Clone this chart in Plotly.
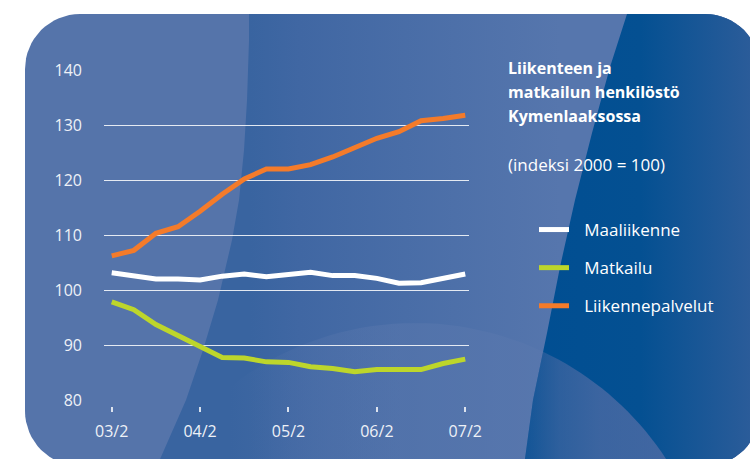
import math
import plotly.graph_objects as go

# ---------------- data ----------------
periods = ["03/2", "03/3", "03/4", "04/1", "04/2", "04/3", "04/4", "05/1", "05/2",
           "05/3", "05/4", "06/1", "06/2", "06/3", "06/4", "07/1", "07/2"]
tick_labels = ["03/2", "04/2", "05/2", "06/2", "07/2"]
maaliikenne = [103.2, 102.7, 102.1, 102.1, 101.9, 102.6, 103.0, 102.5, 102.9,
               103.3, 102.7, 102.7, 102.2, 101.3, 101.4, 102.3, 103.0]
matkailu = [97.9, 96.5, 93.8, 91.8, 89.7, 87.8, 87.7, 87.0, 86.9,
            86.1, 85.8, 85.2, 85.6, 85.7, 85.6, 86.7, 87.5]
liikennepalvelut = [106.3, 107.3, 110.4, 111.6, 114.4, 117.5, 120.3, 122.1, 122.1,
                    122.9, 124.3, 126.1, 127.7, 128.9, 130.9, 131.3, 131.9]
series_names = ["Maaliikenne", "Matkailu", "Liikennepalvelut"]
series_colors = ["#FFFFFF", "#BDD62B", "#F47B2A"]
title_lines = ["Liikenteen ja", "matkailun henkilöstö", "Kymenlaaksossa"]
subtitle = "(indeksi 2000 = 100)"

W, H = 750, 459
FONT = "Open Sans"

# ---------------- background geometry (pixel space, y down) ----------------
RX0, RY0, RX1, RY1, RR = 25, 14, 760, 466, 55


def arc(cx, cy, r, a0, a1, n=16):
    pts = []
    for i in range(n + 1):
        a = math.radians(a0 + (a1 - a0) * i / n)
        pts.append((cx + r * math.cos(a), cy + r * math.sin(a)))
    return pts


def rounded_rect():
    p = []
    p += arc(RX1 - RR, RY0 + RR, RR, -90, 0)
    p += arc(RX1 - RR, RY1 - RR, RR, 0, 90)
    p += arc(RX0 + RR, RY1 - RR, RR, 90, 180)
    p += arc(RX0 + RR, RY0 + RR, RR, 180, 270)
    return p


L1 = [(249, 14), (249, 40), (247, 100), (244, 150), (239, 200), (232, 240),
      (218, 300), (203, 350), (186, 400), (160, 459), (157, 466)]
L2 = [(627, 14), (610, 67), (592, 133), (575, 200), (560, 267), (547, 333),
      (533, 400), (525, 459), (524, 466)]


def right_side_from(xb):
    p = [(xb, RY1)]
    p += arc(RX1 - RR, RY1 - RR, RR, 90, 0)
    p += arc(RX1 - RR, RY0 + RR, RR, 0, -90)
    return p


middle_poly = L1 + right_side_from(L1[-1][0]) + [L1[0]]
right_poly = L2 + right_side_from(L2[-1][0]) + [L2[0]]

CX, CY, CR = 415, 623, 300


def l2_x_at(y):
    for (x0, y0), (x1, y1) in zip(L2[:-1], L2[1:]):
        if y0 <= y <= y1:
            return x0 + (x1 - x0) * (y - y0) / (y1 - y0)
    return L2[-1][0]


best = None
for i in range(2001):
    th = -90 + 60 * i / 2000
    x = CX + CR * math.cos(math.radians(th))
    y = CY + CR * math.sin(math.radians(th))
    d = abs(x - l2_x_at(y))
    if best is None or d < best[0]:
        best = (d, th, x, y)
th_i, xi, yi = best[1], best[2], best[3]
th_left = -180 + math.degrees(math.asin((CY - RY1) / CR))
th_right = -math.degrees(math.asin((CY - RY1) / CR))

l2_below = [(xi, yi)] + [pt for pt in L2 if pt[1] > yi]
disc_mid = arc(CX, CY, CR, th_left, th_i, 40) + l2_below[1:]
disc_mid += [(CX + CR * math.cos(math.radians(th_left)), RY1)]
disc_right = arc(CX, CY, CR, th_i, th_right, 20) + [(L2[-1][0], RY1)] + list(reversed(l2_below[1:]))

fig = go.Figure()


def bg(poly, **kw):
    xs = [p[0] for p in poly] + [poly[0][0]]
    ys = [p[1] for p in poly] + [poly[0][1]]
    fig.add_trace(go.Scatter(x=xs, y=ys, xaxis="x", yaxis="y", mode="lines",
                             line=dict(width=0), fill="toself", hoverinfo="skip",
                             showlegend=False, **kw))


bg(rounded_rect(), fillcolor="#5574AA")
bg(middle_poly, fillgradient=dict(type="horizontal", start=250, stop=560,
                                  colorscale=[[0, "rgb(57,100,160)"], [0.16, "rgb(64,103,163)"],
                                              [1, "rgb(86,118,173)"]]))
bg(disc_mid, fillgradient=dict(type="horizontal", start=230, stop=400,
                               colorscale=[[0, "rgba(90,120,174,0)"], [0.5, "rgba(90,120,174,0.3)"],
                                           [1, "rgba(90,120,174,0.5)"]]))
bg(right_poly, fillgradient=dict(type="horizontal", start=520, stop=760,
                                 colorscale=[[0, "rgb(0,78,146)"], [0.5, "rgb(4,80,146)"],
                                             [1, "rgb(46,93,154)"]]))
bg(disc_right, fillgradient=dict(type="horizontal", start=524, stop=640,
                                 colorscale=[[0, "rgba(90,112,168,0.2)"], [0.3, "rgba(90,112,168,0.5)"],
                                             [0.65, "rgba(90,112,168,0.65)"], [1, "rgba(90,112,168,0.68)"]]))

# ---------------- data traces ----------------
GAP = "\u2002\u200a"
for name, vals, col in zip(series_names, [maaliikenne, matkailu, liikennepalvelut], series_colors):
    fig.add_trace(go.Scatter(x=periods, y=vals, name=GAP + name, xaxis="x2", yaxis="y2",
                             mode="lines", line=dict(color=col, width=5),
                             legendgroup=name))

# ---------------- annotations ----------------
annotations = []
for yc, txt in zip([68, 92, 116], title_lines):
    annotations.append(dict(x=506, y=yc, xref="x", yref="y", text="<b>" + txt + "</b>",
                            showarrow=False, xanchor="left", yanchor="middle",
                            font=dict(family=FONT, size=16, color="white")))
annotations.append(dict(x=506, y=164, xref="x", yref="y", text=subtitle, showarrow=False,
                        xanchor="left", yanchor="middle",
                        font=dict(family=FONT, size=17, color="white")))

fig.update_layout(
    width=W, height=H,
    margin=dict(l=0, r=0, t=0, b=0, pad=0, autoexpand=False),
    paper_bgcolor="white",
    plot_bgcolor="rgba(0,0,0,0)",
    showlegend=True,
    legend=dict(x=534 / W, y=1 - 212 / H, xanchor="left", yanchor="top",
                bgcolor="rgba(0,0,0,0)", borderwidth=0, itemwidth=30,
                tracegroupgap=13, font=dict(family=FONT, size=17, color="white")),
    xaxis=dict(domain=[0, 1], range=[0, W], visible=False, fixedrange=True),
    yaxis=dict(domain=[0, 1], range=[H, 0], visible=False, fixedrange=True),
    xaxis2=dict(domain=[104 / W, 469 / W], anchor="free", position=(H - 405.5) / H,
                type="category", range=[-0.35, 16.17], tickvals=tick_labels, ticktext=tick_labels,
                ticks="outside", ticklen=5, tickwidth=1.5, tickcolor="rgba(255,255,255,0.8)",
                showgrid=False, showline=False, zeroline=False, ticklabelstandoff=6,
                tickfont=dict(family=FONT, size=16, color="#EEF1F7")),
    yaxis2=dict(domain=[(H - 400.85) / H, (H - 70.15) / H], anchor="x2",
                range=[79.9, 140.1], tickvals=[80, 90, 100, 110, 120, 130, 140],
                showgrid=True, gridcolor="rgba(255,255,255,0.85)", gridwidth=1,
                ticks="", showline=False, zeroline=False, ticklabelstandoff=21,
                tickfont=dict(family=FONT, size=16, color="#EEF1F7")),
    annotations=annotations,
)

fig.write_html("out.html", config={"displayModeBar": False},
               post_script="document.body.style.margin='0';")
